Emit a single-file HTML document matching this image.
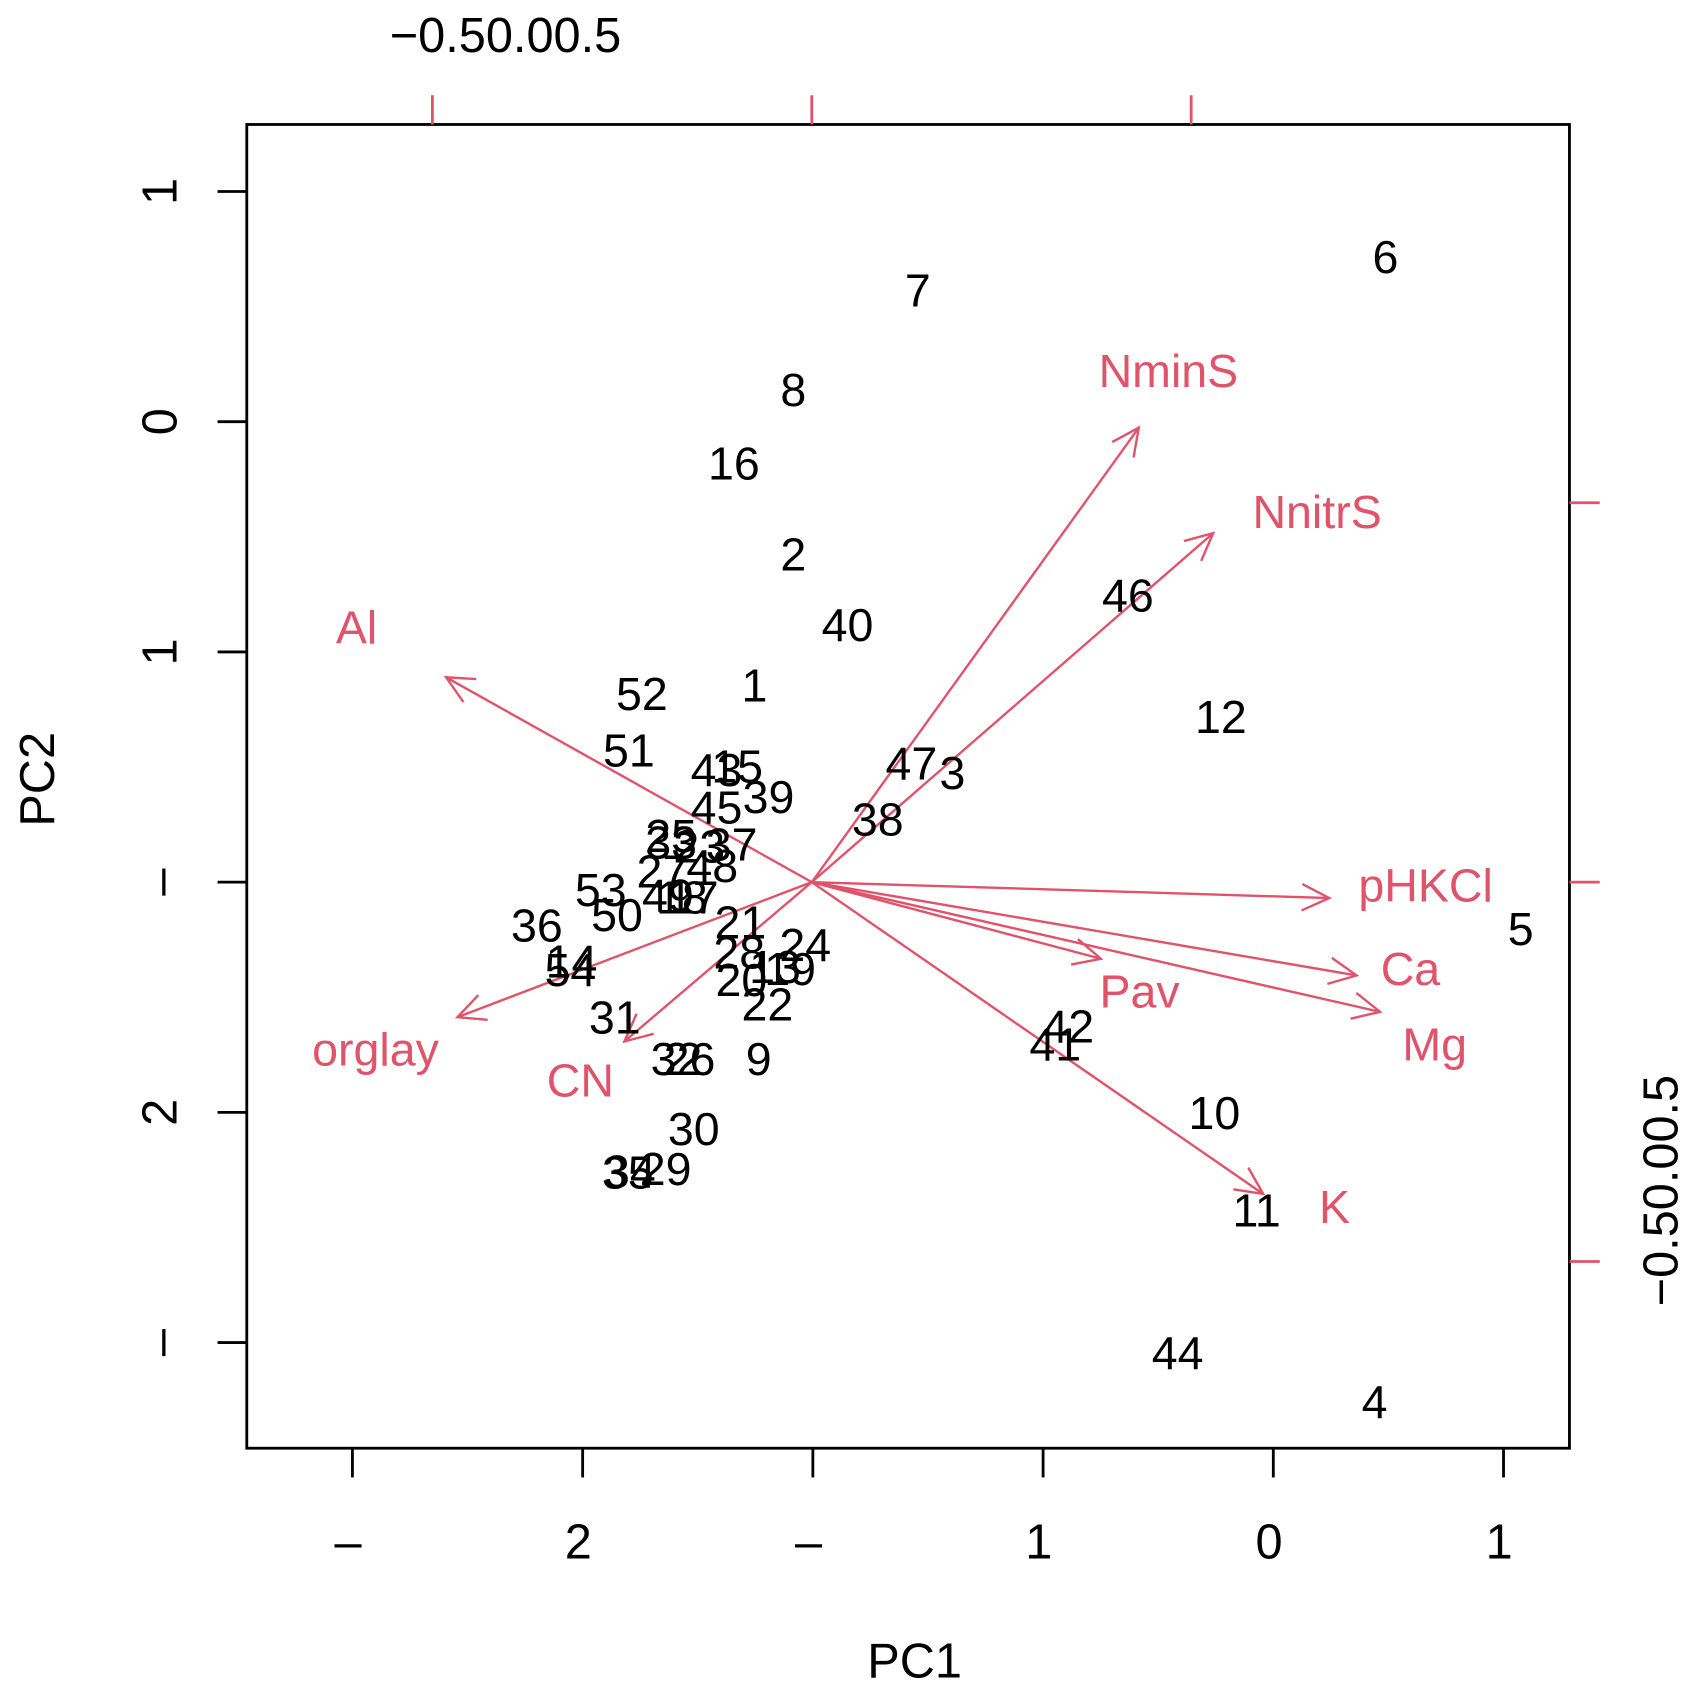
<!DOCTYPE html>
<html><head><meta charset="utf-8"><style>
html,body{margin:0;padding:0;background:#fff}
svg{display:block}
text{font-family:"Liberation Sans",Arial,sans-serif}
</style></head><body>
<svg id="chart" width="1695" height="1695" viewBox="0 0 1566 1566" xmlns="http://www.w3.org/2000/svg">
<rect x="0" y="0" width="1566" height="1566" fill="#fff"/>
<rect x="228" y="115" width="1222" height="1223" fill="none" stroke="#000" stroke-width="2.6"/>
<g id="axes"></g>
<g id="arrows"></g>
<g id="points"></g>
<text x="845" y="1550" font-size="45" text-anchor="middle">PC1</text>
<text transform="translate(50,720) rotate(-90)" font-size="45" text-anchor="middle">PC2</text>
<text x="467" y="48" font-size="45" text-anchor="middle">−0.50.00.5</text>
<text transform="translate(1550,1100) rotate(-90)" font-size="45" text-anchor="middle">−0.50.00.5</text>
</svg>
<script>
const pointLabels=["6","7","8","16","2","40","46","12","52","1","51","43","15","47","3","39","45","38","25","33","23","37","27","48","53","49","18","36","50","21","24","28","14","54","20","19","13","22","31","42","41","32","26","9","10","30","34","35","29","11","44","4","5","17"];
const pointPx=[1280,848,733,678,733,783,1042,1128,593,697,581,662,681,842,880,710,662,811,620,620,646,676,612,658,555,617,630,496,570,684,744,683,528,527,685,730,716,709,568,987,975,625,637,701,1122,641,582,580,615,1161,1088,1270,1405,640];
const pointPy=[237,268,360,428,512,577,550,662,641,633,693,711,708,705,714,736,746,757,772,778,782,780,805,800,822,827,829,855,845,852,873,880,888,896,905,895,893,928,940,948,965,978,978,978,1028,1043,1082,1083,1080,1118,1250,1295,858,829];
// PC scores from pixel readings
const pc1=pointPx.map(p=>(p-751)/212.7);
const pc2=pointPy.map(p=>(815-p)/212.7);
const varNames=["Al","orglay","CN","NminS","NnitrS","pHKCl","Ca","Mg","Pav","K"];
const loadX=[-0.482,-0.467,-0.247,0.431,0.529,0.682,0.718,0.749,0.381,0.595];
const loadY=[0.270,-0.178,-0.210,0.599,0.460,-0.021,-0.123,-0.171,-0.101,-0.411];
const labX=[-0.600,-0.575,-0.305,0.470,0.666,0.809,0.789,0.821,0.432,0.689];
const labY=[0.336,-0.220,-0.261,0.674,0.488,-0.004,-0.114,-0.214,-0.144,-0.428];
const bottomTicks=[-2,-1,0,1,2,3];
const bottomTickLabels=["–","2","–","1","0","1"];
const leftTicks=[3,2,1,0,-1,-2];
const leftTickLabels=["1","0","1","–","2","–"];
const loadTicks=[-0.5,0,0.5];

const sx=v=>751+v*212.7, sy=v=>815-v*212.7;
const lx=v=>750+v*701, ly=v=>815-v*701;
const NS="http://www.w3.org/2000/svg";
function mk(tag,attrs,parent,txt){const e=document.createElementNS(NS,tag);for(const k in attrs)e.setAttribute(k,attrs[k]);if(txt!==undefined)e.textContent=txt;parent.appendChild(e);return e;}
const axes=document.getElementById('axes'),arrows=document.getElementById('arrows'),points=document.getElementById('points');
const red="#DF536B";
bottomTicks.forEach((t,i)=>{
  const l=mk('line',{x1:sx(t),x2:sx(t),y1:1338,y2:1365,stroke:'#000','stroke-width':2.6},axes);
  
  
  const tx=mk('text',{x:sx(t)-4,y:1440,'font-size':45,'text-anchor':'middle'},axes,bottomTickLabels[i]);
  
  
});
leftTicks.forEach((t,i)=>{
  const l=mk('line',{x1:201,x2:228,y1:sy(t),y2:sy(t),stroke:'#000','stroke-width':2.6},axes);
  
  
  const tx=mk('text',{transform:`translate(163,${sy(t)}) rotate(-90)`,'font-size':45,'text-anchor':'middle'},axes,leftTickLabels[i]);
  
  
});
loadTicks.forEach(t=>{
  const a=mk('line',{x1:lx(t),x2:lx(t),y1:88,y2:115,stroke:red,'stroke-width':2.6},axes);
  
  
  const b=mk('line',{x1:1450,x2:1478,y1:ly(t),y2:ly(t),stroke:red,'stroke-width':2.6},axes);
  
  
});
varNames.forEach((n,i)=>{
  const x0=lx(0),y0=ly(0),x1=lx(loadX[i]),y1=ly(loadY[i]);
  const g=mk('g',{},arrows);
  
  
  mk('line',{x1:x0,y1:y0,x2:x1,y2:y1,stroke:red,'stroke-width':2.2},g);
  const ang=Math.atan2(y1-y0,x1-x0),h=28,sp=0.45;
  mk('polyline',{points:`${x1-h*Math.cos(ang-sp)},${y1-h*Math.sin(ang-sp)} ${x1},${y1} ${x1-h*Math.cos(ang+sp)},${y1-h*Math.sin(ang+sp)}`,fill:'none',stroke:red,'stroke-width':2.2},g);
  const t=mk('text',{x:lx(labX[i]),y:ly(labY[i])+15,'font-size':43,'text-anchor':'middle',fill:red},arrows,n);
  
  
});
pointLabels.forEach((n,i)=>{
  const t=mk('text',{x:sx(pc1[i]),y:sy(pc2[i])+15,'font-size':43,'text-anchor':'middle'},points,n);
  
  
});
</script>
</body></html>
